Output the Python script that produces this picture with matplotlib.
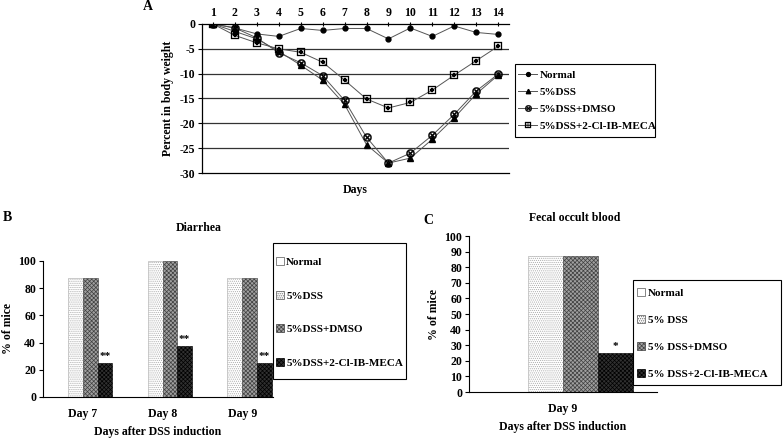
import matplotlib
matplotlib.use("Agg")
import matplotlib.pyplot as plt
from matplotlib.patches import Patch, Rectangle
import numpy as np

plt.rcParams['font.family'] = ['Liberation Serif', 'DejaVu Serif']
plt.rcParams['font.weight'] = 'bold'
plt.rcParams['axes.labelweight'] = 'bold'
plt.rcParams['axes.titleweight'] = 'bold'
plt.rcParams['hatch.linewidth'] = 0.5

# panel A: body weight change
days = list(range(1, 15))
normal_w = [0, -0.8, -2.0, -2.5, -0.9, -1.3, -0.9, -0.9, -3.0, -0.8, -2.5, -0.4, -1.7, -2.1]
dss_w = [0, -1.5, -3.0, -5.5, -8.3, -11.3, -16.2, -24.3, -28.0, -27.0, -23.2, -18.9, -14.1, -10.3]
dmso_w = [0, -0.8, -2.8, -5.8, -7.8, -10.4, -15.4, -22.8, -28.0, -26.0, -22.4, -18.2, -13.5, -10.1]
meca_w = [0, -2.3, -3.8, -5.0, -5.7, -7.7, -11.3, -15.1, -16.9, -15.8, -13.3, -10.3, -7.4, -4.5]

# panel B/C
groups = ["Normal", "5%DSS", "5%DSS+DMSO", "5%DSS+2-Cl-IB-MECA"]
groups_c = ["Normal", "5% DSS", "5% DSS+DMSO", "5% DSS+2-Cl-IB-MECA"]
diarrhea_days = ["Day 7", "Day 8", "Day 9"]
diarrhea = {
    "Normal": [0, 0, 0],
    "5%DSS": [87.5, 100, 87.5],
    "5%DSS+DMSO": [87.5, 100, 87.5],
    "5%DSS+2-Cl-IB-MECA": [25, 37.5, 25],
}
diarrhea_marks = ["**", "**", "**"]
blood_days = ["Day 9"]
blood = [0, 87.5, 87.5, 25]
blood_mark = "*"

face = ["white", "white", "#a0a0a0", "#303030"]
hatchc = ["#999999", "#a8a8a8", "#404040", "#000000"]
hatches = ["", "........", "xxxxxxxx", "xxxxxxxx"]

W, H = 784, 441
fig = plt.figure(figsize=(7.84, 4.41), dpi=100)


def fx(px):
    return px / W


def fy(py):
    return 1 - py / H


def frame(x0, y0, x1, y1):
    fig.patches.append(Rectangle((fx(x0), fy(y1)), fx(x1) - fx(x0), fy(y0) - fy(y1),
                                 transform=fig.transFigure, fill=False, ec='black', lw=0.8))


# ---------- A ----------
axA = fig.add_axes([0.2577, 0.6077, 0.3916, 0.3379])
lc = "#555555"
axA.plot(days, normal_w, color=lc, lw=0.7, marker='o', ms=3.5, mfc='black', mec='black', label="Normal")
axA.plot(days, dss_w, color=lc, lw=0.7, marker='^', ms=4, mfc='black', mec='black', label="5%DSS")
axA.plot(days, dmso_w, color=lc, lw=0.7, marker='$\u2297$', ms=6, mfc='black', mec='black', mew=0.2, label="5%DSS+DMSO")
axA.plot(days, meca_w, color=lc, lw=0.7, marker='$\u229e$', ms=6, mfc='black', mec='black', mew=0.2, label="5%DSS+2-Cl-IB-MECA")
axA.set_xlim(0.5, 14.5)
axA.set_ylim(-30, 0)
axA.set_yticks(range(-30, 1, 5))
axA.set_yticklabels([str(v) for v in range(-30, 1, 5)], fontsize=8.5)
axA.set_xticks(days)
axA.set_xticklabels([str(d) for d in days], fontsize=8.5)
axA.xaxis.tick_top()
axA.tick_params(axis='x', length=3, direction='inout', pad=2)
axA.tick_params(axis='y', length=3, direction='out', pad=2)
for v in range(-25, 0, 5):
    axA.axhline(v, color='#333333', lw=0.9, zorder=0)
axA.spines['right'].set_visible(False)
for s in ['top', 'bottom', 'left']:
    axA.spines[s].set_linewidth(0.9)
axA.set_ylabel("Percent in body weight", fontsize=8.5, labelpad=4)
axA.set_xlabel("Days", fontsize=8.5, labelpad=8)
axA.xaxis.set_label_position('bottom')
fig.legend(*axA.get_legend_handles_labels(), loc='upper left', bbox_to_anchor=(fx(516), fy(68)),
           fontsize=8, frameon=False, handlelength=1.7, handletextpad=0.2,
           labelspacing=0.65, borderpad=0.2, borderaxespad=0, markerscale=0.8)
frame(515, 64, 655, 137)
fig.text(fx(148), fy(7), "A", fontsize=10, ha='center', va='center')


def bar_panel(ax, cats, values, marks):
    x = np.arange(len(cats))
    w = 0.185
    for i in range(len(values)):
        pos = x + (i - 1.5) * w
        ax.bar(pos, values[i], width=w, color=face[i], edgecolor=hatchc[i], hatch=hatches[i], lw=0.4)
    for j, m in enumerate(marks):
        ax.text(x[j] + 1.5 * w, values[3][j] + 1.5, m, ha='center', va='bottom', fontsize=8)
    ax.set_xticks(x)
    ax.set_xticklabels(cats, fontsize=8.5)
    ax.tick_params(axis='x', length=0, pad=8)
    ax.tick_params(axis='y', length=3, direction='out', pad=2, labelsize=8.5)
    for s in ['top', 'right']:
        ax.spines[s].set_visible(False)
    ax.spines['left'].set_linewidth(0.8)
    ax.spines['bottom'].set_linewidth(0.8)
    return [Patch(facecolor=face[i], edgecolor='#555555' if i < 2 else hatchc[i], hatch=hatches[i], lw=0.5)
            for i in range(4)]


# ---------- B ----------
axB = fig.add_axes([0.0548, 0.0998, 0.2934, 0.3084])
valsB = [diarrhea[g] for g in groups]
hB = bar_panel(axB, diarrhea_days, valsB, diarrhea_marks)
axB.set_xlim(-0.5, 2.386)
axB.set_ylim(0, 100)
axB.set_yticks(range(0, 101, 20))
axB.set_ylabel("% of mice", fontsize=8.5, labelpad=3)
axB.set_xlabel("Days after DSS induction", fontsize=8.5, labelpad=4)
fig.text(fx(199), fy(228), "Diarrhea", fontsize=8.5, ha='center', va='center')
fig.legend(hB, groups, loc='upper left', bbox_to_anchor=(fx(275), fy(256)), fontsize=8,
           frameon=False, handlelength=0.7, handleheight=0.7,
           handletextpad=0.2, labelspacing=2.15, borderpad=0.1, borderaxespad=0)
frame(273, 243, 406, 379)
fig.text(fx(7), fy(218), "B", fontsize=10, ha='center', va='center')

# ---------- C ----------
axC = fig.add_axes([0.5982, 0.1111, 0.2398, 0.3537])
valsC = [[v] for v in blood]
hC = bar_panel(axC, blood_days, valsC, [blood_mark])
axC.set_xlim(-0.5, 0.5)
axC.set_ylim(0, 100)
axC.set_yticks(range(0, 101, 10))
axC.set_ylabel("% of mice", fontsize=8.5, labelpad=3)
axC.set_xlabel("Days after DSS induction", fontsize=8.5, labelpad=4)
fig.text(fx(575), fy(218), "Fecal occult blood", fontsize=8.5, ha='center', va='center')
fig.legend(hC, groups_c, loc='upper left', bbox_to_anchor=(fx(636), fy(287)), fontsize=8,
           frameon=False, handlelength=0.7, handleheight=0.7,
           handletextpad=0.3, labelspacing=1.55, borderpad=0.1, borderaxespad=0)
frame(633, 280, 781, 385)
fig.text(fx(428), fy(220), "C", fontsize=10, ha='center', va='center')

fig.savefig("out.png", dpi=100)
